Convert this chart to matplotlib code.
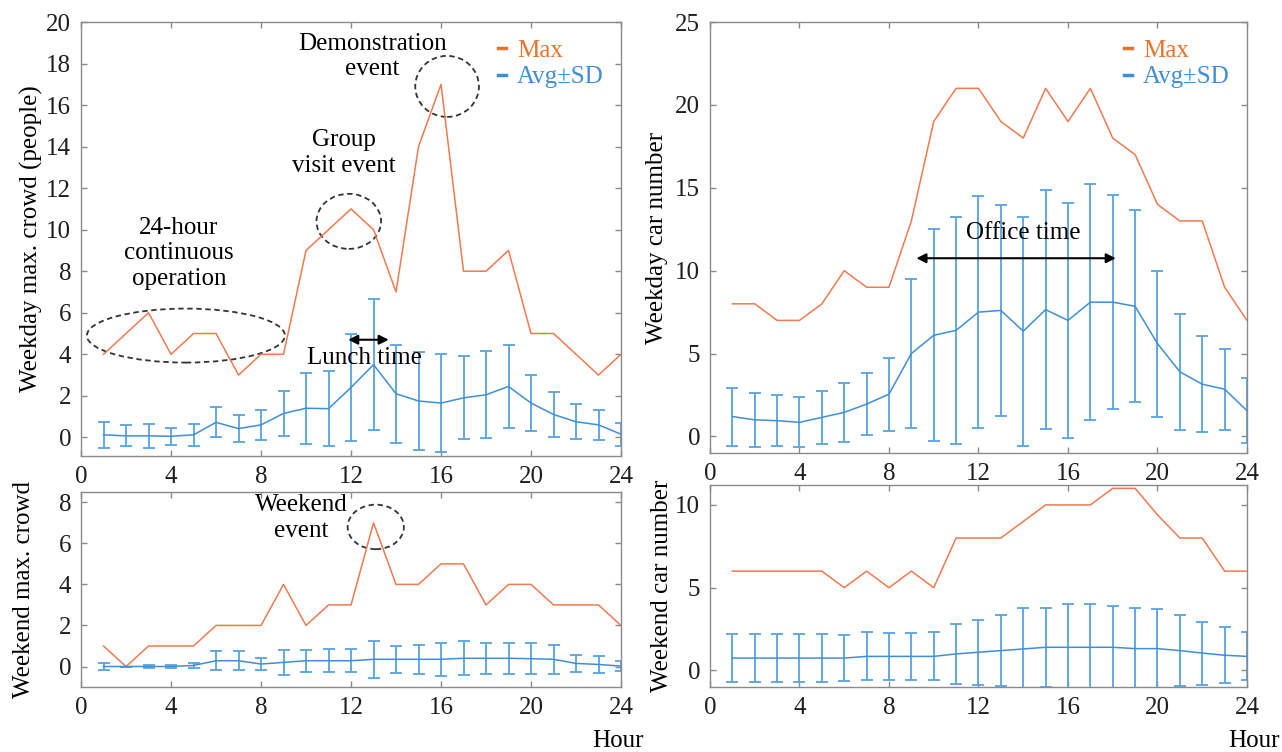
import numpy as np
import matplotlib
matplotlib.use("Agg")
import matplotlib.pyplot as plt
from matplotlib.patches import Ellipse

plt.rcParams['font.family'] = ['Liberation Serif', 'DejaVu Serif']
plt.rcParams['font.size'] = 18

hours = np.arange(1, 25)

# weekday crowd
wd_crowd_max = [4, 5, 6, 4, 5, 5, 3, 4, 4, 9, 10, 11, 10, 7, 14, 17, 8, 8, 9, 5, 5, 4, 3, 4]
wd_crowd_avg = [0.12, 0.07, 0.07, 0.05, 0.12, 0.72, 0.42, 0.6, 1.15, 1.4, 1.38, 2.4,
                3.5, 2.1, 1.75, 1.65, 1.9, 2.05, 2.45, 1.65, 1.1, 0.75, 0.6, 0.15]
wd_crowd_sd = [0.62, 0.5, 0.58, 0.4, 0.53, 0.72, 0.65, 0.73, 1.1, 1.7, 1.8, 2.6,
               3.15, 2.35, 2.35, 2.35, 2.0, 2.1, 2.0, 1.35, 1.1, 0.85, 0.72, 0.55]

# weekend crowd
we_crowd_max = [1, 0, 1, 1, 1, 2, 2, 2, 4, 2, 3, 3, 7, 4, 4, 5, 5, 3, 4, 4, 3, 3, 3, 2]
we_crowd_avg = [0.0, 0.0, 0.0, 0.0, 0.05, 0.28, 0.28, 0.12, 0.2, 0.28, 0.28, 0.28,
                0.35, 0.35, 0.35, 0.35, 0.4, 0.4, 0.4, 0.38, 0.35, 0.15, 0.1, 0.02]
we_crowd_sd = [0.15, 0.0, 0.07, 0.07, 0.12, 0.47, 0.47, 0.28, 0.6, 0.53, 0.55, 0.55,
               0.9, 0.65, 0.7, 0.8, 0.82, 0.75, 0.75, 0.75, 0.7, 0.43, 0.4, 0.24]

# weekday cars
wd_car_max = [8, 8, 7, 7, 8, 10, 9, 9, 13, 19, 21, 21, 19, 18, 21, 19, 21, 18, 17, 14, 13, 13, 9, 7]
wd_car_avg = [1.2, 1.0, 0.95, 0.85, 1.15, 1.45, 1.95, 2.55, 5.0, 6.1, 6.4, 7.5,
              7.6, 6.35, 7.65, 7.0, 8.1, 8.1, 7.85, 5.6, 3.9, 3.15, 2.85, 1.55]
wd_car_sd = [1.75, 1.65, 1.55, 1.5, 1.6, 1.8, 1.85, 2.2, 4.5, 6.4, 6.85, 7.0,
             6.35, 6.9, 7.2, 7.1, 7.1, 6.45, 5.8, 4.4, 3.5, 2.9, 2.45, 1.95]

# weekend cars
we_car_max = [6, 6, 6, 6, 6, 5, 6, 5, 6, 5, 8, 8, 8, 9, 10, 10, 10, 11, 11, 9.4, 8, 8, 6, 6]
we_car_avg = [0.75, 0.75, 0.75, 0.75, 0.75, 0.75, 0.85, 0.85, 0.85, 0.85, 1.0, 1.1,
              1.2, 1.3, 1.4, 1.4, 1.4, 1.4, 1.32, 1.32, 1.2, 1.05, 0.92, 0.85]
we_car_sd = [1.45, 1.45, 1.45, 1.45, 1.45, 1.4, 1.45, 1.4, 1.4, 1.45, 1.8, 1.95,
             2.15, 2.45, 2.4, 2.6, 2.6, 2.5, 2.48, 2.4, 2.15, 1.9, 1.68, 1.45]

ORANGE = '#ee7a4f'
ORANGE_TXT = '#e8732c'
BLUE = '#3f8fd6'
BLUE_ERR = '#58a3e2'
FRAME = '#8a8a8a'

fig = plt.figure(figsize=(12.82, 7.52), dpi=100)
ax1 = fig.add_axes([0.0632, 0.3936, 0.4212, 0.5771])
ax2 = fig.add_axes([0.0632, 0.0864, 0.4212, 0.2593])
ax3 = fig.add_axes([0.5538, 0.3976, 0.4189, 0.5731])
ax4 = fig.add_axes([0.5538, 0.0864, 0.4189, 0.2686])


def draw(ax, mx, avg, sd, ylim, yticks, ylabel):
    l1, = ax.plot(hours, mx, color=ORANGE, lw=1.1, label='Max')
    ax.errorbar(hours, avg, yerr=sd, fmt='none', ecolor=BLUE_ERR, elinewidth=1.3,
                capsize=4, capthick=1.3)
    l2, = ax.plot(hours, avg, color=BLUE, lw=1.1, label='Avg±SD')
    ax.set_xlim(0, 24)
    ax.set_ylim(*ylim)
    ax.set_xticks(range(0, 25, 4))
    ax.set_yticks(yticks)
    ax.set_ylabel(ylabel)
    ax.tick_params(direction='in', top=True, right=True, length=4, width=1,
                   color=FRAME, labelcolor='#1e1e1e', pad=7)
    for s in ax.spines.values():
        s.set_color(FRAME)
        s.set_linewidth(1)
    return l1, l2


def add_legend(ax, lines):
    leg = ax.legend(lines, ['Max', 'Avg±SD'], loc='upper right', frameon=False,
                    handlelength=0.3, handletextpad=0.45, labelspacing=0.15,
                    borderaxespad=0.3, fontsize=18)
    leg.get_texts()[0].set_color(ORANGE_TXT)
    leg.get_texts()[1].set_color(BLUE)
    leg.get_lines()[0].set_linewidth(2.5)
    leg.get_lines()[1].set_linewidth(2.5)
    leg.get_lines()[0].set_color(ORANGE_TXT)


lines = draw(ax1, wd_crowd_max, wd_crowd_avg, wd_crowd_sd, (-0.9, 20), range(0, 21, 2),
             'Weekday max. crowd (people)')
add_legend(ax1, lines)
draw(ax2, we_crowd_max, we_crowd_avg, we_crowd_sd, (-1, 8.5), range(0, 9, 2),
     'Weekend max. crowd')
lines = draw(ax3, wd_car_max, wd_car_avg, wd_car_sd, (-1, 25), range(0, 26, 5),
             'Weekday car number')
add_legend(ax3, lines)
draw(ax4, we_car_max, we_car_avg, we_car_sd, (-1, 11.2), range(0, 11, 5),
     'Weekend car number')

ax1.yaxis.set_label_coords(-0.07, 0.5)
ax2.yaxis.set_label_coords(-0.085, 0.5)
ax3.yaxis.set_label_coords(-0.078, 0.5)
ax4.yaxis.set_label_coords(-0.068, 0.5)

ax2.text(0.994, -0.277, 'Hour', transform=ax2.transAxes, ha='center', va='center')
ax4.text(1.013, -0.267, 'Hour', transform=ax4.transAxes, ha='center', va='center')

# annotations
circ = dict(fill=False, ls=(0, (3, 2)), ec='#333333', lw=1.3)
ax1.add_patch(Ellipse((4.66, 4.9), 8.8, 2.6, **circ))
ax1.add_patch(Ellipse((11.9, 10.4), 2.87, 2.65, **circ))
ax1.add_patch(Ellipse((16.27, 16.9), 2.83, 2.94, **circ))
ax1.text(4.35, 8.87, '24-hour\ncontinuous\noperation', ha='center', va='center',
         linespacing=1.2)
ax1.text(11.67, 13.7, 'Group\nvisit event', ha='center', va='center', linespacing=1.2)
ax1.text(12.95, 18.35, 'Demonstration\nevent', ha='center', va='center', linespacing=1.2)
ax1.annotate('', xy=(11.75, 4.7), xytext=(13.8, 4.7),
             arrowprops=dict(arrowstyle='<|-|>', color='black', lw=1.5, mutation_scale=14))
ax1.text(12.6, 3.8, 'Lunch time', ha='center', va='center')

ax2.add_patch(Ellipse((13.1, 6.8), 2.5, 2.17, **circ))
ax2.text(9.8, 7.23, 'Weekend\nevent', ha='center', va='center', linespacing=1.2)

ax3.annotate('', xy=(9.1, 10.75), xytext=(18.26, 10.75),
             arrowprops=dict(arrowstyle='<|-|>', color='black', lw=1.5, mutation_scale=14))
ax3.text(14.0, 12.3, 'Office time', ha='center', va='center')

fig.savefig('out.png', dpi=100)
